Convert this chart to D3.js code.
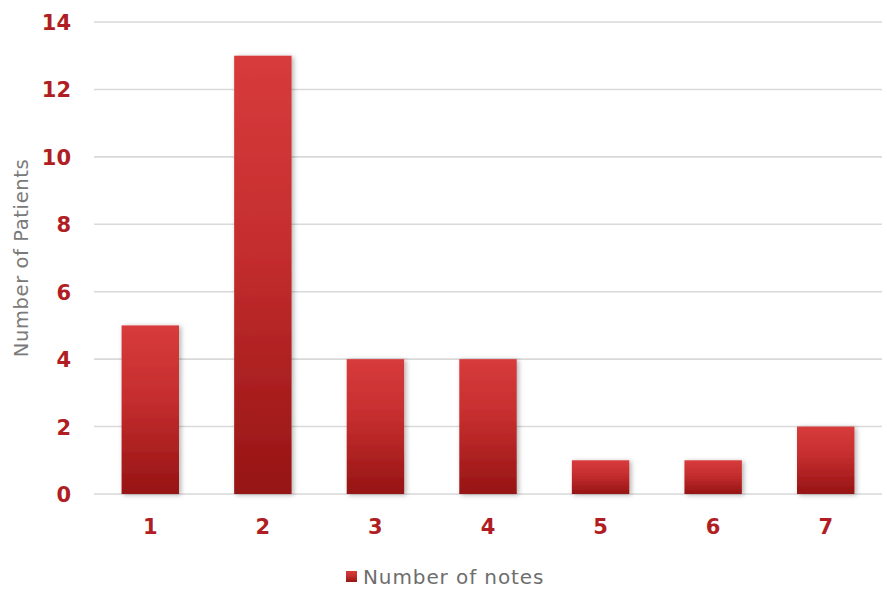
<!DOCTYPE html>
<html>
<head>
<meta charset="utf-8">
<script src="https://cdn.jsdelivr.net/npm/d3@7"></script>
<style>
  html, body { margin: 0; padding: 0; background: #fff; }
  svg { display: block; }
</style>
</head>
<body>
<svg id="chart" width="887" height="589"></svg>
<script>
// Patients grouped by number of notes
const categories = ["1", "2", "3", "4", "5", "6", "7"];
const patients = [5, 13, 4, 4, 1, 1, 2];
const yTicks = [0, 2, 4, 6, 8, 10, 12, 14];
const seriesName = "Number of notes";
const yTitle = "Number of Patients";

const svg = d3.select("#chart");
const W = 887, H = 589;
const margin = { left: 94, right: 5, top: 22, bottom: 95 };

const x = d3.scaleBand()
  .domain(categories)
  .range([margin.left, W - margin.right])
  .paddingInner(0.49)
  .paddingOuter(0.245);

const y = d3.scaleLinear()
  .domain([0, 14])
  .range([H - margin.bottom, margin.top]);

const defs = svg.append("defs");
const grad = defs.append("linearGradient")
  .attr("id", "barGrad")
  .attr("x1", 0).attr("y1", 0).attr("x2", 0).attr("y2", 1);
grad.append("stop").attr("offset", "0%").attr("stop-color", "#d83b3b");
grad.append("stop").attr("offset", "45%").attr("stop-color", "#c42d2e");
grad.append("stop").attr("offset", "100%").attr("stop-color", "#961414");

const shadow = defs.append("filter")
  .attr("id", "barShadow")
  .attr("x", "-20%").attr("y", "-10%").attr("width", "150%").attr("height", "130%");
shadow.append("feDropShadow")
  .attr("dx", 2).attr("dy", 1).attr("stdDeviation", 2.5)
  .attr("flood-color", "#000").attr("flood-opacity", 0.3);

// Horizontal gridlines
svg.append("g")
  .selectAll("line")
  .data(yTicks)
  .join("line")
  .attr("x1", margin.left)
  .attr("x2", W - margin.right)
  .attr("y1", d => y(d))
  .attr("y2", d => y(d))
  .attr("stroke", "#d9d9d9")
  .attr("stroke-width", 1.6);

// Y axis labels
const yAxis = d3.axisLeft(y).tickValues(yTicks).tickSize(0).tickPadding(0);
const gy = svg.append("g")
  .attr("transform", `translate(71,0)`)
  .call(yAxis);
gy.select(".domain").remove();
gy.selectAll("text")
  .attr("fill", "#b01e23")
  .attr("font-family", "'DejaVu Sans', sans-serif")
  .attr("font-weight", "bold")
  .attr("font-size", "21px")
  .attr("dy", "0.36em");

// Bars
svg.append("g")
  .selectAll("rect")
  .data(categories.map((c, i) => ({ c, v: patients[i] })))
  .join("rect")
  .attr("x", d => x(d.c))
  .attr("width", x.bandwidth())
  .attr("y", d => y(d.v))
  .attr("height", d => y(0) - y(d.v))
  .attr("fill", "url(#barGrad)")
  .attr("filter", "url(#barShadow)");

// X axis labels
const xAxis = d3.axisBottom(x).tickSize(0).tickPadding(0);
const gx = svg.append("g")
  .attr("transform", `translate(0,${y(0) + 25})`)
  .call(xAxis);
gx.select(".domain").remove();
gx.selectAll("text")
  .attr("fill", "#b01e23")
  .attr("font-family", "'DejaVu Sans', sans-serif")
  .attr("font-weight", "bold")
  .attr("font-size", "21px")
  .attr("dy", "0.71em");

// Y axis title
svg.append("text")
  .attr("transform", `translate(28,${(y(0) + y(14)) / 2}) rotate(-90)`)
  .attr("text-anchor", "middle")
  .attr("fill", "#7a7a7a")
  .attr("font-family", "'DejaVu Sans', sans-serif")
  .attr("font-size", "19.5px")
  .attr("letter-spacing", "0.6px")
  .text(yTitle);

// Legend
const legend = svg.append("g").attr("transform", "translate(346,571)");
legend.append("rect")
  .attr("width", 11).attr("height", 11)
  .attr("fill", "url(#barGrad)");
legend.append("text")
  .attr("x", 17).attr("y", 13)
  .attr("fill", "#6e6e6e")
  .attr("font-family", "'DejaVu Sans', sans-serif")
  .attr("font-size", "20px")
  .attr("letter-spacing", "0.9px")
  .text(seriesName);
</script>
</body>
</html>
